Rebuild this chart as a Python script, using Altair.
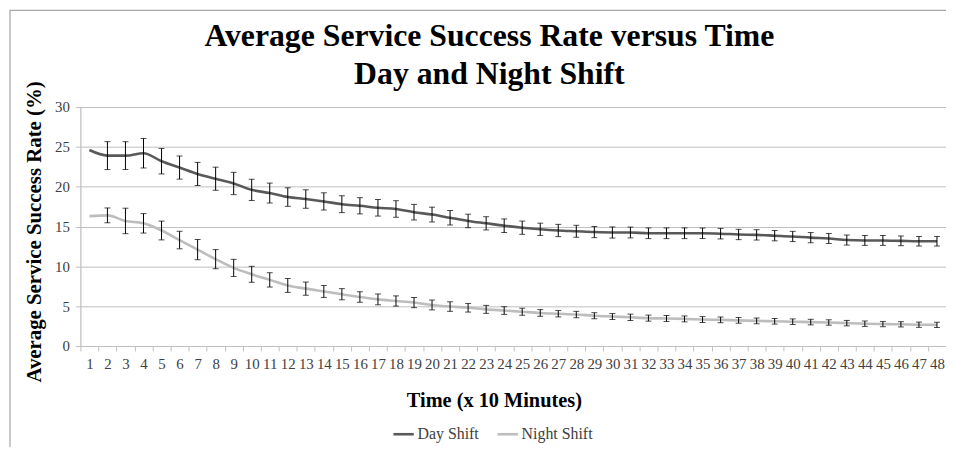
import altair as alt
import pandas as pd

# ---- data ----
time_steps = list(range(1, 49))
shifts = ["Day Shift", "Night Shift"]

day_rate = [24.6, 23.9, 23.9, 24.2, 23.2, 22.4, 21.6, 21.0, 20.4, 19.6,
            19.2, 18.7, 18.45, 18.15, 17.8, 17.6, 17.35, 17.2, 16.8, 16.5,
            16.1, 15.7, 15.4, 15.1, 14.85, 14.65, 14.5, 14.4, 14.3, 14.25,
            14.25, 14.15, 14.15, 14.15, 14.15, 14.1, 14.0, 13.95, 13.85, 13.75,
            13.6, 13.5, 13.3, 13.25, 13.25, 13.2, 13.15, 13.15]
day_err = [0, 1.75, 1.75, 1.85, 1.6, 1.45, 1.45, 1.45, 1.4, 1.33,
           1.25, 1.16, 1.16, 1.08, 1.06, 1.02, 1.04, 1.04, 0.98, 0.93,
           0.91, 0.85, 0.83, 0.85, 0.83, 0.77, 0.77, 0.75, 0.7, 0.7,
           0.68, 0.67, 0.67, 0.67, 0.66, 0.66, 0.65, 0.65, 0.65, 0.64,
           0.64, 0.63, 0.63, 0.62, 0.62, 0.61, 0.6, 0.6]
night_rate = [16.3, 16.4, 15.7, 15.4, 14.5, 13.3, 12.1, 10.9, 9.8, 9.0,
              8.3, 7.6, 7.2, 6.85, 6.5, 6.15, 5.85, 5.65, 5.45, 5.15,
              4.95, 4.8, 4.6, 4.45, 4.3, 4.15, 4.05, 3.95, 3.8, 3.7,
              3.6, 3.5, 3.45, 3.4, 3.32, 3.28, 3.22, 3.15, 3.1, 3.05,
              3.0, 2.95, 2.87, 2.8, 2.75, 2.72, 2.67, 2.65]
night_err = [0, 0.93, 1.6, 1.22, 1.18, 1.1, 1.27, 1.2, 1.08, 1.0,
             0.9, 0.87, 0.83, 0.75, 0.7, 0.66, 0.68, 0.64, 0.64, 0.62,
             0.6, 0.54, 0.5, 0.48, 0.44, 0.42, 0.4, 0.4, 0.38, 0.37,
             0.4, 0.38, 0.38, 0.37, 0.37, 0.36, 0.36, 0.36, 0.35, 0.35,
             0.35, 0.34, 0.34, 0.34, 0.33, 0.33, 0.33, 0.33]

y_ticks = [0, 5, 10, 15, 20, 25, 30]

df = pd.DataFrame({
    "time": time_steps * 2,
    "shift": [shifts[0]] * 48 + [shifts[1]] * 48,
    "rate": day_rate + night_rate,
    "err": day_err + night_err,
})
df["lo"] = df["rate"] - df["err"]
df["hi"] = df["rate"] + df["err"]

FONT = "Liberation Serif, Times New Roman, DejaVu Serif, serif"

x_axis = alt.Axis(
    title="Time (x 10 Minutes)", labelAngle=0, tickBand="extent", grid=False,
    tickSize=5, labelPadding=6, labelFont=FONT, labelFontSize=15, labelColor="#404040",
    titleFontSize=20.5, titleFont=FONT, titleFontWeight="bold", titleColor="black",
    titleX=417, titleY=61, titleBaseline="alphabetic", titleAlign="center",
    domainColor="#BFBFBF", tickColor="#BFBFBF",
)
y_axis = alt.Axis(
    title="Average Service Success Rate (%)", values=y_ticks, grid=True,
    gridColor="#BFBFBF", tickSize=5, labelPadding=6, labelFont=FONT, labelFontSize=15,
    labelColor="#404040", titleFontSize=21, titleFont=FONT,
    titleFontWeight="bold", titleColor="black", titleX=-40, titleY=125.5,
    titleBaseline="alphabetic", titleAlign="center", titleAngle=270,
    domainColor="#BFBFBF", tickColor="#BFBFBF",
)
x_scale = alt.Scale(type="band", paddingInner=0, paddingOuter=0)
y_scale = alt.Scale(domain=[0, 30], nice=False, zero=True)

lines = alt.Chart(df).mark_line(strokeWidth=2.6, interpolate="monotone").encode(
    x=alt.X("time:O", scale=x_scale, axis=x_axis),
    y=alt.Y("rate:Q", scale=y_scale, axis=y_axis),
    color=alt.Color(
        "shift:N",
        scale=alt.Scale(domain=shifts, range=["#595959", "#BDBDBD"]),
        legend=alt.Legend(
            title=None, orient="none", legendX=314, legendY=318,
            direction="horizontal", symbolType="stroke", symbolSize=420,
            symbolStrokeWidth=2.6, labelFont=FONT, labelFontSize=16,
            labelColor="#404040", labelOffset=2, columnPadding=13, padding=0,
        ),
    ),
)

err_base = alt.Chart(df).transform_filter("datum.err > 0")
err_rule = err_base.mark_rule(color="black", strokeWidth=1).encode(
    x=alt.X("time:O", scale=x_scale, axis=x_axis),
    y=alt.Y("lo:Q", scale=y_scale, axis=y_axis),
    y2="hi:Q",
)
err_lo = err_base.mark_tick(color="black", size=6, thickness=1).encode(
    x=alt.X("time:O", scale=x_scale, axis=x_axis),
    y=alt.Y("lo:Q", scale=y_scale, axis=y_axis),
)
err_hi = err_base.mark_tick(color="black", size=6, thickness=1).encode(
    x=alt.X("time:O", scale=x_scale, axis=x_axis),
    y=alt.Y("hi:Q", scale=y_scale, axis=y_axis),
)

# outer chart-area border (top and left edges visible in the reference)
frame_df = pd.DataFrame({"k": [0]})
border_top = alt.Chart(frame_df).mark_rule(color="#A6A6A6", strokeWidth=1.2).encode(
    x=alt.value(-71), x2=alt.value(880), y=alt.value(-97.5))
border_left = alt.Chart(frame_df).mark_rule(color="#A6A6A6", strokeWidth=1.2).encode(
    x=alt.value(-71), y=alt.value(-98), y2=alt.value(400))

chart = alt.layer(border_top, border_left, lines, err_rule, err_lo, err_hi).properties(
    width=873,
    height=241,
    autosize=alt.AutoSizeParams(type="none"),
    padding={"left": 73, "top": 98, "right": 0, "bottom": 100},
    title=alt.TitleParams(
        text=["Average Service Success Rate versus Time", "Day and Night Shift"],
        font=FONT, fontSize=32, fontWeight="bold", color="black",
        lineHeight=38, anchor="middle", frame="group", dx=-24, offset=10,
        baseline="alphabetic", dy=117.5,
    ),
).configure_view(stroke=None).configure(background="white")

chart.save("out.html", embed_options={"renderer": "svg", "actions": False})
